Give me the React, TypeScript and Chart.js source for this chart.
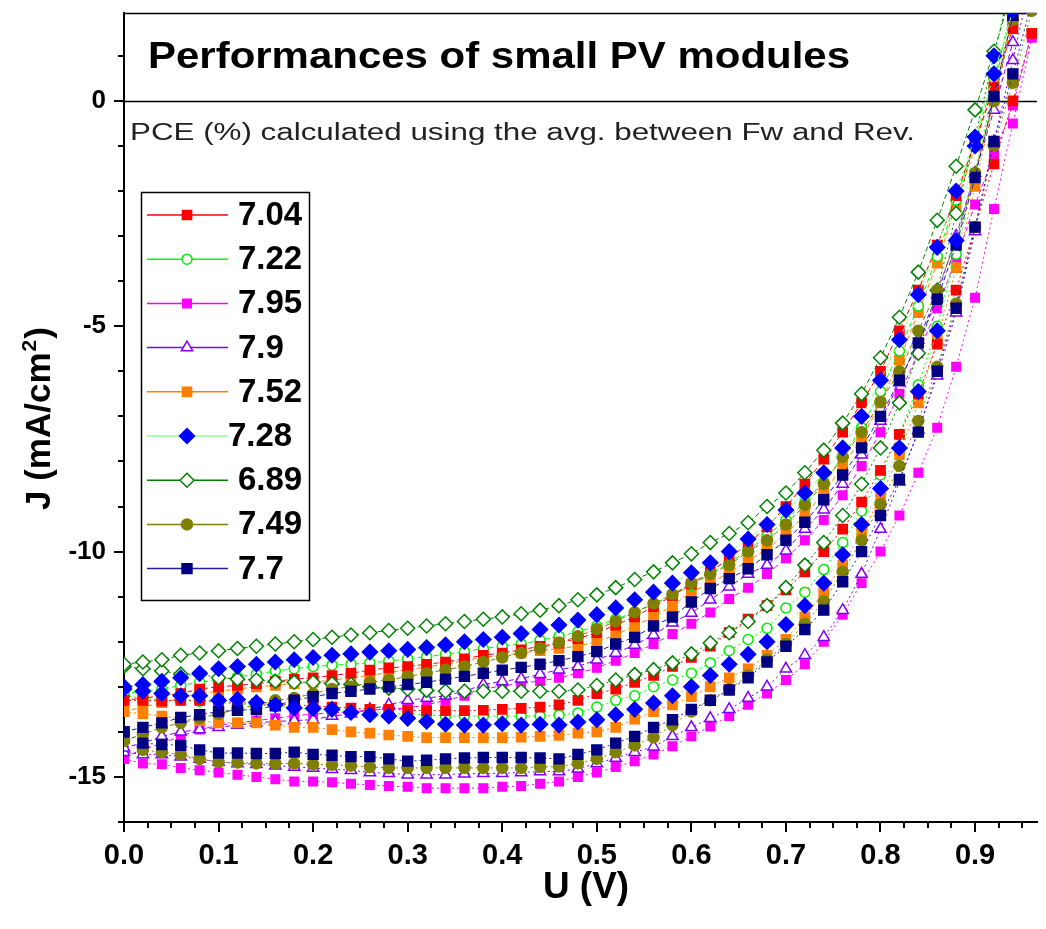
import React, { useEffect, useRef } from 'react';
import { Chart, registerables } from 'chart.js';
import { drawPoint } from 'chart.js/helpers';

Chart.register(...registerables);

// ---------------- DATA ----------------
const voltage = [0, 0.02, 0.04, 0.06, 0.08, 0.1, 0.12, 0.14, 0.16, 0.18, 0.2, 0.22, 0.24, 0.26, 0.28, 0.3, 0.32, 0.34, 0.36, 0.38, 0.4, 0.42, 0.44, 0.46, 0.48, 0.5, 0.52, 0.54, 0.56, 0.58, 0.6, 0.62, 0.64, 0.66, 0.68, 0.7, 0.72, 0.74, 0.76, 0.78, 0.8, 0.82, 0.84, 0.86, 0.88, 0.9, 0.92, 0.94, 0.96];

const xTickValues = [0, 0.1, 0.2, 0.3, 0.4, 0.5, 0.6, 0.7, 0.8, 0.9];
const yTickValues = [-15, -10, -5, 0];

const pceLabels = ['7.04', '7.22', '7.95', '7.9', '7.52', '7.28', '6.89', '7.49', '7.7'];

const j704Fw = [-13.3, -13.25, -13.2, -13.15, -13.05, -13.0, -12.97, -12.93, -12.88, -12.83, -12.8, -12.75, -12.7, -12.63, -12.58, -12.55, -12.5, -12.45, -12.38, -12.3, -12.25, -12.18, -12.1, -12.03, -11.93, -11.8, -11.63, -11.45, -11.22, -10.98, -10.72, -10.45, -10.15, -9.82, -9.45, -9.0, -8.5, -7.95, -7.35, -6.7, -6.0, -5.1, -4.2, -3.2, -2.1, -0.9, 0.3, 1.6];
const j704Rev = [-13.3, -13.3, -13.32, -13.3, -13.3, -13.32, -13.35, -13.37, -13.4, -13.4, -13.42, -13.45, -13.47, -13.5, -13.5, -13.52, -13.53, -13.53, -13.53, -13.52, -13.5, -13.48, -13.45, -13.4, -13.3, -13.15, -13.05, -12.9, -12.75, -12.55, -12.35, -12.1, -11.8, -11.5, -11.2, -10.85, -10.45, -10.0, -9.5, -8.9, -8.2, -7.4, -6.5, -5.4, -4.2, -2.8, -1.4, 0.0, 1.5];

const j722Fw = [-13.15, -13.1, -13.05, -12.97, -12.9, -12.85, -12.78, -12.72, -12.65, -12.6, -12.55, -12.52, -12.5, -12.47, -12.43, -12.38, -12.33, -12.28, -12.22, -12.15, -12.1, -12.05, -11.97, -11.88, -11.78, -11.65, -11.5, -11.35, -11.17, -10.97, -10.75, -10.5, -10.25, -9.97, -9.65, -9.3, -8.9, -8.45, -7.9, -7.25, -6.45, -5.55, -4.55, -3.45, -2.2, -0.9, 0.5, 2.0];
const j722Rev = [-13.2, -13.25, -13.3, -13.3, -13.32, -13.35, -13.38, -13.4, -13.43, -13.47, -13.5, -13.52, -13.55, -13.57, -13.6, -13.6, -13.62, -13.65, -13.65, -13.65, -13.65, -13.65, -13.65, -13.63, -13.58, -13.45, -13.3, -13.2, -13.0, -12.85, -12.7, -12.47, -12.2, -11.95, -11.7, -11.25, -10.9, -10.4, -9.8, -9.1, -8.3, -7.4, -6.3, -5.0, -3.4, -1.6, 0.3, 2.2];

const j795Fw = [-14.55, -14.4, -14.25, -14.1, -13.95, -13.85, -13.8, -13.75, -13.7, -13.65, -13.6, -13.58, -13.55, -13.52, -13.5, -13.47, -13.4, -13.3, -13.2, -13.05, -12.98, -12.92, -12.87, -12.8, -12.7, -12.58, -12.42, -12.25, -12.05, -11.83, -11.6, -11.35, -11.05, -10.8, -10.5, -10.15, -9.75, -9.3, -8.75, -8.1, -7.35, -6.5, -5.6, -4.6, -3.5, -2.3, -1.2, -0.1, 1.5];
const j795Rev = [-14.6, -14.7, -14.72, -14.8, -14.85, -14.9, -14.95, -15.0, -15.05, -15.1, -15.1, -15.12, -15.15, -15.18, -15.2, -15.22, -15.25, -15.25, -15.25, -15.25, -15.22, -15.2, -15.15, -15.1, -15.0, -14.9, -14.78, -14.65, -14.5, -14.32, -14.1, -13.88, -13.65, -13.4, -13.15, -12.85, -12.5, -12.0, -11.4, -10.7, -10.0, -9.2, -8.25, -7.25, -5.9, -4.37, -2.4, -0.5, 1.4];

const j79Fw = [-14.35, -14.25, -14.1, -14.0, -13.95, -13.9, -13.85, -13.8, -13.77, -13.75, -13.73, -13.65, -13.6, -13.5, -13.4, -13.3, -13.25, -13.2, -13.1, -12.95, -12.88, -12.82, -12.72, -12.62, -12.55, -12.4, -12.25, -12.07, -11.85, -11.58, -11.36, -11.07, -10.78, -10.5, -10.3, -9.98, -9.5, -9.07, -8.5, -7.85, -7.1, -6.25, -5.3, -4.3, -3.0, -1.6, -0.2, 1.3];
const j79Rev = [-14.45, -14.5, -14.5, -14.55, -14.6, -14.67, -14.7, -14.72, -14.75, -14.78, -14.8, -14.83, -14.85, -14.9, -14.92, -14.95, -14.95, -14.95, -14.93, -14.92, -14.92, -14.9, -14.88, -14.88, -14.82, -14.7, -14.58, -14.45, -14.33, -14.1, -13.9, -13.7, -13.5, -13.25, -13.0, -12.6, -12.3, -11.9, -11.3, -10.5, -9.5, -8.45, -7.3, -6.1, -4.7, -2.9, -0.9, 0.9, 2.8];

const j752Fw = [-13.55, -13.45, -13.35, -13.25, -13.15, -13.1, -13.05, -13.0, -12.97, -12.93, -12.9, -12.85, -12.8, -12.75, -12.68, -12.62, -12.56, -12.5, -12.42, -12.35, -12.3, -12.25, -12.2, -12.15, -12.1, -12.0, -11.85, -11.65, -11.45, -11.2, -10.9, -10.7, -10.47, -10.2, -9.95, -9.6, -9.2, -8.7, -8.1, -7.5, -6.7, -5.75, -4.7, -3.6, -2.3, -1.0, 0.4, 1.8];
const j752Rev = [-13.55, -13.6, -13.65, -13.7, -13.75, -13.8, -13.8, -13.8, -13.85, -13.9, -13.9, -13.95, -14.0, -14.03, -14.07, -14.1, -14.13, -14.13, -14.13, -14.13, -14.13, -14.12, -14.1, -14.08, -14.03, -14.0, -13.9, -13.72, -13.55, -13.4, -13.22, -13.0, -12.8, -12.6, -12.3, -11.95, -11.45, -10.9, -10.3, -9.6, -8.8, -7.85, -6.7, -5.3, -3.7, -1.9, 0.0, 1.7];

const j728Fw = [-13.0, -12.95, -12.88, -12.8, -12.7, -12.6, -12.55, -12.5, -12.45, -12.4, -12.35, -12.3, -12.27, -12.23, -12.2, -12.17, -12.13, -12.07, -12.0, -11.95, -11.9, -11.82, -11.73, -11.63, -11.52, -11.4, -11.25, -11.07, -10.9, -10.7, -10.47, -10.25, -10.0, -9.72, -9.4, -9.08, -8.7, -8.25, -7.7, -7.0, -6.2, -5.3, -4.3, -3.25, -2.0, -0.8, 0.6, 2.0];
const j728Rev = [-13.05, -13.1, -13.15, -13.2, -13.2, -13.3, -13.28, -13.35, -13.4, -13.47, -13.48, -13.5, -13.57, -13.62, -13.65, -13.7, -13.77, -13.83, -13.85, -13.85, -13.82, -13.85, -13.83, -13.85, -13.78, -13.73, -13.62, -13.5, -13.36, -13.2, -13.0, -12.75, -12.5, -12.28, -12.0, -11.62, -11.2, -10.7, -10.07, -9.4, -8.6, -7.7, -6.45, -5.1, -3.1, -1.0, 1.0, 3.0];

const j689Fw = [-12.5, -12.45, -12.4, -12.3, -12.25, -12.2, -12.15, -12.1, -12.05, -12.0, -11.95, -11.9, -11.85, -11.8, -11.75, -11.7, -11.65, -11.6, -11.55, -11.5, -11.45, -11.38, -11.3, -11.2, -11.07, -10.96, -10.8, -10.62, -10.45, -10.25, -10.05, -9.8, -9.6, -9.36, -9.0, -8.7, -8.25, -7.75, -7.15, -6.5, -5.7, -4.8, -3.8, -2.65, -1.45, -0.2, 1.1, 2.5];
const j689Rev = [-12.55, -12.6, -12.65, -12.72, -12.72, -12.8, -12.83, -12.85, -12.88, -12.9, -12.9, -12.93, -12.95, -13.0, -13.03, -13.05, -13.08, -13.1, -13.1, -13.1, -13.1, -13.1, -13.1, -13.1, -13.07, -12.97, -12.85, -12.73, -12.62, -12.47, -12.27, -12.03, -11.8, -11.55, -11.2, -10.8, -10.3, -9.8, -9.2, -8.5, -7.7, -6.7, -5.6, -4.2, -2.5, -0.8, 1.0, 2.8];

const j749Fw = [-14.2, -14.05, -13.9, -13.8, -13.7, -13.6, -13.5, -13.4, -13.3, -13.25, -13.15, -13.05, -13.0, -12.9, -12.85, -12.77, -12.7, -12.62, -12.55, -12.45, -12.35, -12.25, -12.15, -12.02, -11.88, -11.72, -11.55, -11.35, -11.15, -10.95, -10.7, -10.5, -10.3, -10.0, -9.75, -9.4, -8.97, -8.5, -7.9, -7.35, -6.68, -6.0, -5.1, -4.2, -3.1, -1.6, 0.0, 1.8];
const j749Rev = [-14.2, -14.4, -14.45, -14.5, -14.6, -14.67, -14.68, -14.7, -14.7, -14.7, -14.72, -14.73, -14.75, -14.78, -14.8, -14.8, -14.8, -14.8, -14.8, -14.8, -14.8, -14.8, -14.78, -14.77, -14.7, -14.6, -14.45, -14.3, -14.12, -13.85, -13.55, -13.3, -13.05, -12.75, -12.4, -12.05, -11.6, -11.1, -10.45, -9.75, -8.95, -8.1, -7.1, -5.9, -4.5, -2.8, -1.0, 0.4, 2.0];

const j77Fw = [-14.0, -13.9, -13.8, -13.68, -13.62, -13.55, -13.52, -13.5, -13.42, -13.3, -13.22, -13.15, -13.1, -13.05, -13.0, -12.95, -12.9, -12.83, -12.77, -12.7, -12.63, -12.57, -12.5, -12.42, -12.33, -12.22, -12.05, -11.9, -11.65, -11.45, -11.12, -10.82, -10.6, -10.38, -10.07, -9.75, -9.35, -8.85, -8.3, -7.7, -7.0, -6.2, -5.37, -4.4, -3.2, -1.7, 0.1, 1.9];
const j77Rev = [-14.0, -14.25, -14.28, -14.3, -14.4, -14.47, -14.47, -14.48, -14.48, -14.45, -14.5, -14.52, -14.55, -14.55, -14.6, -14.65, -14.63, -14.6, -14.58, -14.57, -14.57, -14.57, -14.58, -14.6, -14.5, -14.4, -14.25, -14.1, -13.9, -13.73, -13.5, -13.3, -13.07, -12.8, -12.45, -12.1, -11.73, -11.3, -10.67, -10.0, -9.2, -8.4, -7.35, -6.0, -4.6, -2.8, -0.9, 0.6, 2.2];

// ---------------- STYLES ----------------
type Style = { color: string; line: string; pointStyle: string; radius: number; filled: boolean };
const styles: Style[] = [
  { color: '#FF0000', line: '#FF0000', pointStyle: 'rect', radius: 6.5, filled: true },
  { color: '#00EE00', line: '#00FF00', pointStyle: 'circle', radius: 5, filled: false },
  { color: '#FF00FF', line: '#FF00FF', pointStyle: 'rect', radius: 6, filled: true },
  { color: '#8000FF', line: '#8000FF', pointStyle: 'triangle', radius: 6.5, filled: false },
  { color: '#FF8000', line: '#FF8000', pointStyle: 'rect', radius: 6.5, filled: true },
  { color: '#0000FF', line: '#90FF90', pointStyle: 'rectRot', radius: 7.5, filled: true },
  { color: '#008000', line: '#008000', pointStyle: 'rectRot', radius: 7, filled: false },
  { color: '#808000', line: '#808000', pointStyle: 'circle', radius: 5.5, filled: true },
  { color: '#000080', line: '#2020A0', pointStyle: 'rect', radius: 7, filled: true },
];
const curves = [
  [j704Fw, j704Rev], [j722Fw, j722Rev], [j795Fw, j795Rev], [j79Fw, j79Rev], [j752Fw, j752Rev],
  [j728Fw, j728Rev], [j689Fw, j689Rev], [j749Fw, j749Rev], [j77Fw, j77Rev],
];
// draw order: first in list ends on top
const drawOrder = [5, 8, 7, 6, 0, 1, 4, 3, 2];

const FONT = "'Liberation Sans', Arial, sans-serif";

function fitText(ctx: CanvasRenderingContext2D, text: string, x: number, y: number, width: number) {
  const w = ctx.measureText(text).width;
  ctx.save();
  ctx.translate(x, y);
  ctx.scale(width / w, 1);
  ctx.fillText(text, 0, 0);
  ctx.restore();
}

const decorPlugin = {
  id: 'decor',
  beforeDatasetsDraw(chart: any) {
    const { ctx, chartArea, scales } = chart;
    const ys = scales.y;
    ctx.save();
    ctx.strokeStyle = '#000';
    ctx.lineWidth = 1.5;
    ctx.beginPath();
    ctx.moveTo(chartArea.left, chartArea.top + 0.5);
    ctx.lineTo(chartArea.right, chartArea.top + 0.5);
    const y0 = Math.round(ys.getPixelForValue(0)) + 0.5;
    ctx.moveTo(chartArea.left, y0);
    ctx.lineTo(chartArea.right, y0);
    ctx.stroke();
    ctx.fillStyle = '#000';
    ctx.textBaseline = 'alphabetic';
    ctx.font = `bold 36px ${FONT}`;
    fitText(ctx, 'Performances of small PV modules', 148, 68, 702);
    ctx.fillStyle = '#222';
    ctx.font = `23px ${FONT}`;
    fitText(ctx, 'PCE (%) calculated using the avg. between Fw and Rev.', 130, 140, 785);
    ctx.restore();
  },
  afterDraw(chart: any) {
    const { ctx, chartArea, scales } = chart;
    const xs = scales.x;
    const ys = scales.y;
    ctx.save();
    ctx.strokeStyle = '#000';
    ctx.lineWidth = 2;
    ctx.beginPath();
    for (let k = 1; k * 0.025 < xs.max; k++) {
      if (k % 4 === 0) continue;
      const px = Math.round(xs.getPixelForValue(k * 0.025));
      ctx.moveTo(px, chartArea.bottom);
      ctx.lineTo(px, chartArea.bottom + 6);
    }
    for (let v = -16; v <= 1; v++) {
      if (v % 5 === 0) continue;
      const py = Math.round(ys.getPixelForValue(v));
      ctx.moveTo(chartArea.left, py);
      ctx.lineTo(chartArea.left - 6, py);
    }
    ctx.stroke();

    // axis titles
    ctx.fillStyle = '#000';
    ctx.font = `bold 36px ${FONT}`;
    ctx.textBaseline = 'alphabetic';
    fitText(ctx, 'U (V)', 543, 898, 86);

    ctx.save();
    ctx.translate(50, 510);
    ctx.rotate(-Math.PI / 2);
    ctx.font = `bold 35px ${FONT}`;
    const p1 = 'J (mA/cm';
    const w1 = ctx.measureText(p1).width;
    ctx.fillText(p1, 0, 0);
    ctx.font = `bold 21px ${FONT}`;
    ctx.fillText('2', w1 + 1, -14);
    const w2 = ctx.measureText('2').width;
    ctx.font = `bold 35px ${FONT}`;
    ctx.fillText(')', w1 + w2 + 2, 0);
    ctx.restore();

    // legend
    const lx = 141, ly = 192, lw = 168, lh = 408;
    ctx.lineWidth = 1.5;
    ctx.strokeStyle = '#000';
    ctx.strokeRect(lx + 0.5, ly + 0.5, lw, lh);
    for (let i = 0; i < pceLabels.length; i++) {
      const st = styles[i];
      const cy = 215 + i * 44.2;
      ctx.strokeStyle = st.line;
      ctx.lineWidth = 1.5;
      ctx.beginPath();
      ctx.moveTo(147, cy);
      ctx.lineTo(228, cy);
      ctx.stroke();
      ctx.fillStyle = st.filled ? st.color : '#FFFFFF';
      ctx.strokeStyle = st.color;
      ctx.lineWidth = 1.5;
      drawPoint(ctx, { pointStyle: st.pointStyle, radius: st.radius, rotation: 0, borderWidth: 1.5 } as any, 187, cy);
      ctx.fillStyle = '#000';
      ctx.font = `bold 33px ${FONT}`;
      ctx.textBaseline = 'middle';
      ctx.fillText(pceLabels[i], i === 5 ? 228 : 238, cy + 1);
    }
    ctx.restore();
  },
};

export default function App() {
  const ref = useRef<HTMLCanvasElement | null>(null);
  useEffect(() => {
    document.body.style.margin = '0';
    const datasets: any[] = [];
    drawOrder.forEach((mi) => {
      const st = styles[mi];
      curves[mi].forEach((arr, sweep) => {
        datasets.push({
          label: `${pceLabels[mi]} ${sweep === 0 ? 'Fw' : 'Rev'}`,
          data: arr.map((j, i) => ({ x: voltage[i], y: j })),
          borderColor: st.line,
          borderWidth: 1,
          borderDash: sweep === 0 ? [5, 3] : [2, 3],
          pointStyle: st.pointStyle,
          pointRadius: st.radius,
          pointBackgroundColor: st.filled ? st.color : '#FFFFFF',
          pointBorderColor: st.color,
          pointBorderWidth: 1.5,
          tension: 0,
          fill: false,
        });
      });
    });
    const chart = new Chart(ref.current as HTMLCanvasElement, {
      type: 'line',
      data: { datasets },
      options: {
        responsive: false,
        animation: false,
        devicePixelRatio: 1,
        layout: { padding: { top: 13, right: 0, left: 0, bottom: 0 } },
        plugins: { legend: { display: false }, tooltip: { enabled: false }, title: { display: false } },
        scales: {
          x: {
            type: 'linear',
            min: 0,
            max: 0.9655,
            afterBuildTicks: (s: any) => { s.ticks = xTickValues.map((v) => ({ value: v })); },
            afterFit: (s: any) => { s.height = 107; s.paddingLeft = 0; s.paddingRight = 0; },
            ticks: {
              callback: (v: any) => Number(v).toFixed(1),
              font: { family: FONT, size: 29, weight: 'bold' },
              color: '#000',
              padding: 7,
              maxRotation: 0,
              autoSkip: false,
            },
            grid: { drawOnChartArea: false, drawTicks: true, tickLength: 10, color: '#000', lineWidth: 2 },
            border: { display: true, color: '#000', width: 2 },
          },
          y: {
            type: 'linear',
            min: -16,
            max: 1.95,
            afterBuildTicks: (s: any) => { s.ticks = yTickValues.map((v) => ({ value: v })); },
            afterFit: (s: any) => { s.width = 124; s.paddingTop = 0; s.paddingBottom = 0; },
            ticks: {
              callback: (v: any) => String(v),
              font: { family: FONT, size: 26, weight: 'bold' },
              color: '#000',
              padding: 8,
            },
            grid: { drawOnChartArea: false, drawTicks: true, tickLength: 10, color: '#000', lineWidth: 2 },
            border: { display: true, color: '#000', width: 2 },
          },
        },
      },
      plugins: [decorPlugin],
    } as any);
    return () => chart.destroy();
  }, []);
  return (
    <div style={{ position: 'absolute', left: 0, top: 0, width: 1046, height: 929, background: '#fff' }}>
      <canvas ref={ref} width={1046} height={929} style={{ display: 'block' }} />
    </div>
  );
}
